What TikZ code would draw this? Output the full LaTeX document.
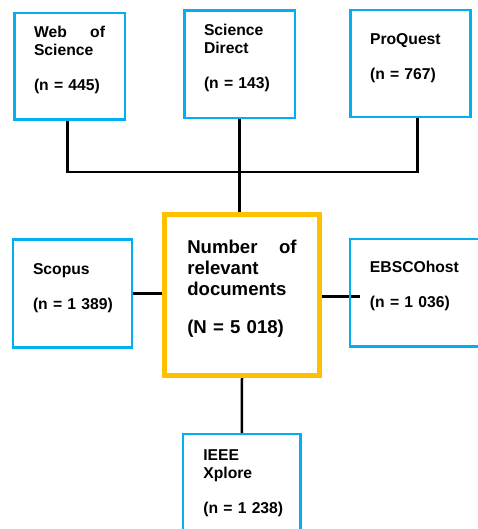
\documentclass[tikz,border=0pt]{standalone}
\usepackage{fontspec}
\setmainfont{Liberation Sans}
\usetikzlibrary{backgrounds}
\definecolor{dbblue}{RGB}{0,176,240}
\definecolor{hubgold}{RGB}{255,192,0}

\begin{document}
\begin{tikzpicture}[x=1pt,y=-1pt,
  db/.style n args={4}{draw=dbblue,line width=2.5pt,inner sep=0pt,align=left,
    font=\bfseries\fontsize{15.7}{18}\selectfont,
    minimum width=#1,text width=#2,text height=#3,text depth=#4},
  total/.style={draw=hubgold,line width=5pt,inner sep=0pt,align=left,
    font=\bfseries\fontsize{18.6}{21}\selectfont},
  link/.style={line width=2.5pt}]
\useasboundingbox (0,0) rectangle (477,529);
\node[db={110.5pt}{71pt}{24.75pt}{81.75pt}] (wos) at (69.5,66.5) {Web \hfill of\\Science\\[17pt](n~=~445)};
\node[db={110.5pt}{71pt}{25.5pt}{82pt}] (sd) at (239.5,64.25) {Science\\Direct\\[17pt](n~=~143)};
\node[db={120.25pt}{80.75pt}{34.3pt}{72.7pt}] (pq) at (410.4,63.5) {ProQuest\\[17pt](n~=~767)};
\node[db={119pt}{79pt}{34.4pt}{73.4pt}] (scopus) at (72.5,293.5) {Scopus\\[17pt](n~=~1~389)};
\node[total,minimum width=155.6pt,text width=109.4pt,text height=38.5pt,text depth=121.9pt] (hub) at (242,295) {Number \hfill of\\relevant\\documents\\[17pt](N~=~5~018)};
\node[db={130.75pt}{91.25pt}{33.7pt}{73.8pt}] (ebsco) at (415.6,292.75) {EBSCOhost\\[17pt](n~=~1~036)};
\node[db={117.5pt}{76.9pt}{26pt}{80pt}] (ieee) at (241.8,487) {IEEE\\Xplore\\[17pt](n~=~1~238)};
\coordinate (bus) at (0,172);
\begin{scope}[on background layer]
\draw[link] ([xshift=-1.8pt]wos.south) |- ([xshift=7.3pt]pq.south |- bus) -- ([xshift=7.3pt]pq.south);
\draw[link] (sd.south) -- (sd.south |- hub.north);
\draw[link] (scopus.east) -- (scopus.east -| hub.west);
\draw[link] ([yshift=-1.7pt]hub.east) -- ([xshift=11pt,yshift=-1.7pt]hub.east -| ebsco.west);
\draw[link] (hub.south) -- (ieee.north);
\end{scope}
\end{tikzpicture}
\end{document}
